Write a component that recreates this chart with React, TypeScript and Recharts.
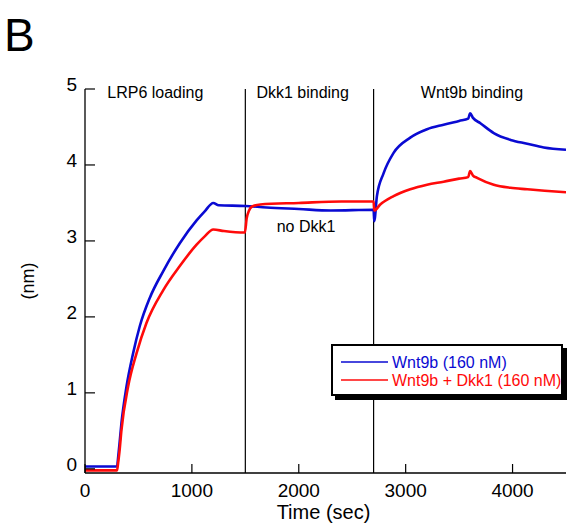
import React from 'react';
import { LineChart, Line, XAxis, YAxis, ReferenceLine, ReferenceDot, Legend } from 'recharts';

const blueTime = [0, 300, 310, 322, 341, 388, 450, 513, 606, 731, 887, 1044, 1120, 1200, 1250, 1500, 1700, 2000, 2300, 2700, 2706, 2731, 2793, 2887, 3043, 3200, 3355, 3500, 3585, 3603, 3630, 3699, 3824, 3981, 4137, 4292, 4500];
const blueValue = [0.03, 0.03, 0.15, 0.32, 0.6, 1.08, 1.52, 1.88, 2.25, 2.6, 2.97, 3.27, 3.39, 3.5, 3.47, 3.46, 3.44, 3.42, 3.4, 3.41, 3.26, 3.59, 3.89, 4.16, 4.36, 4.47, 4.53, 4.58, 4.61, 4.68, 4.62, 4.55, 4.42, 4.33, 4.28, 4.23, 4.2];

const redTime = [0, 300, 310, 322, 341, 403, 482, 575, 731, 887, 1044, 1120, 1200, 1300, 1495, 1513, 1535, 1560, 1640, 2000, 2400, 2700, 2706, 2762, 2887, 3043, 3200, 3355, 3500, 3585, 3603, 3630, 3668, 3824, 3981, 4137, 4300, 4500];
const redValue = [-0.02, -0.02, 0.08, 0.22, 0.51, 1.08, 1.52, 1.92, 2.35, 2.67, 2.95, 3.06, 3.15, 3.13, 3.11, 3.3, 3.4, 3.45, 3.48, 3.5, 3.52, 3.52, 3.4, 3.48, 3.59, 3.68, 3.74, 3.78, 3.82, 3.84, 3.92, 3.86, 3.83, 3.74, 3.7, 3.68, 3.66, 3.64];

const xTicks = [0, 1000, 2000, 3000, 4000];
const yTicks = [0, 1, 2, 3, 4, 5];
const phaseBoundaries = [1500, 2700];
const phaseLabels = ['LRP6 loading', 'Dkk1 binding', 'Wnt9b binding'];
const phaseLabelTimes = [658, 2036, 3620];
const seriesNames = ['Wnt9b (160 nM)', 'Wnt9b + Dkk1 (160 nM)'];
const noteText = 'no Dkk1';

const BLUE = '#0a0ad2';
const RED = '#ff0a0a';
const FONT = '"Liberation Sans", Arial, sans-serif';

const blueData = blueTime.map((t, i) => ({ t, v: blueValue[i] }));
const redData = redTime.map((t, i) => ({ t, v: redValue[i] }));

const XTick = (props: any) => {
  const { x, y, payload } = props;
  return (
    <g>
      <line x1={x} x2={x} y1={y} y2={y - 9} stroke="#000" strokeWidth={1.2} />
      <text x={x} y={y + 24} textAnchor="middle" fontSize={19} fontFamily={FONT} fill="#000">
        {payload.value}
      </text>
    </g>
  );
};

const YTick = (props: any) => {
  const { x, y, payload } = props;
  return (
    <g>
      <line x1={x} x2={x + 10} y1={y} y2={y} stroke="#000" strokeWidth={1.2} />
      <text x={x - 8} y={y + 2} textAnchor="end" fontSize={19} fontFamily={FONT} fill="#000">
        {payload.value}
      </text>
    </g>
  );
};

const textLabel = (value: string, size: number) => (props: any) => {
  const vb = props.viewBox || {};
  const cx = vb.x + (vb.width || 0) / 2;
  const cy = vb.y + (vb.height || 0) / 2;
  return (
    <text x={cx} y={cy} textAnchor="middle" fontSize={size} fontFamily={FONT} fill="#000">
      {value}
    </text>
  );
};

const renderLegend = () => (
  <svg width={238} height={58} style={{ display: 'block' }}>
    <rect x={4} y={4} width={232} height={52} fill="#000" />
    <rect x={1} y={1} width={230} height={50} fill="#fff" stroke="#000" strokeWidth={2} />
    <line x1={10} x2={57} y1={18} y2={18} stroke={BLUE} strokeWidth={1.3} />
    <text x={61} y={24} fontSize={16} fontFamily={FONT} fill={BLUE}>{seriesNames[0]}</text>
    <line x1={10} x2={57} y1={36} y2={36} stroke={RED} strokeWidth={1.3} />
    <text x={61} y={42} fontSize={16} fontFamily={FONT} fill={RED}>{seriesNames[1]}</text>
  </svg>
);

export default function App() {
  return (
    <div style={{ position: 'absolute', left: 0, top: 0, width: 571, height: 529, background: '#fff' }}>
      <svg width={60} height={60} style={{ position: 'absolute', left: 0, top: 0 }}>
        <text x={4} y={51} fontSize={46} fontFamily={FONT} fill="#000">B</text>
      </svg>
      <LineChart
        width={571}
        height={529}
        margin={{ top: 89, right: 5, left: 45, bottom: 26 }}
      >
        <XAxis
          type="number"
          dataKey="t"
          domain={[0, 4500]}
          ticks={xTicks}
          interval={0}
          height={30}
          tickSize={0}
          tickMargin={0}
          tickLine={false}
          axisLine={{ stroke: '#000', strokeWidth: 1.3 }}
          tick={<XTick />}
          allowDataOverflow
          label={{
            content: (p: any) => {
              const vb = p.viewBox || {};
              return (
                <text x={vb.x + vb.width / 2 - 2} y={519} textAnchor="middle" fontSize={20} fontFamily={FONT} fill="#000">
                  Time (sec)
                </text>
              );
            },
          }}
        />
        <YAxis
          type="number"
          domain={[-0.055, 5]}
          ticks={yTicks}
          interval={0}
          width={40}
          tickSize={0}
          tickMargin={0}
          tickLine={false}
          axisLine={{ stroke: '#000', strokeWidth: 1.3 }}
          tick={<YTick />}
          allowDataOverflow
          label={{
            content: (p: any) => {
              const vb = p.viewBox || {};
              const cy = vb.y + vb.height / 2;
              return (
                <text x={34} y={cy} transform={`rotate(-90, 34, ${cy})`} textAnchor="middle" fontSize={18} fontFamily={FONT} fill="#000">
                  (nm)
                </text>
              );
            },
          }}
        />
        {phaseBoundaries.map((b) => (
          <ReferenceLine key={b} x={b} stroke="#000" strokeWidth={1.2} />
        ))}
        {phaseLabels.map((lab, i) => (
          <ReferenceDot
            key={lab}
            x={phaseLabelTimes[i]}
            y={4.875}
            r={0}
            fill="none"
            stroke="none"
            label={{ content: textLabel(lab, 16) }}
          />
        ))}
        <ReferenceDot x={2068} y={3.124} r={0} fill="none" stroke="none" label={{ content: textLabel(noteText, 16) }} />
        <Line
          data={blueData}
          dataKey="v"
          name={seriesNames[0]}
          type="monotone"
          stroke={BLUE}
          strokeWidth={2.6}
          dot={false}
          isAnimationActive={false}
        />
        <Line
          data={redData}
          dataKey="v"
          name={seriesNames[1]}
          type="monotone"
          stroke={RED}
          strokeWidth={2.6}
          dot={false}
          isAnimationActive={false}
        />
        <Legend
          layout="horizontal"
          verticalAlign="middle"
          align="center"
          content={renderLegend}
          wrapperStyle={{ position: 'absolute', left: 331, top: 344, width: 238, height: 58, margin: 0, padding: 0 }}
        />
      </LineChart>
    </div>
  );
}
